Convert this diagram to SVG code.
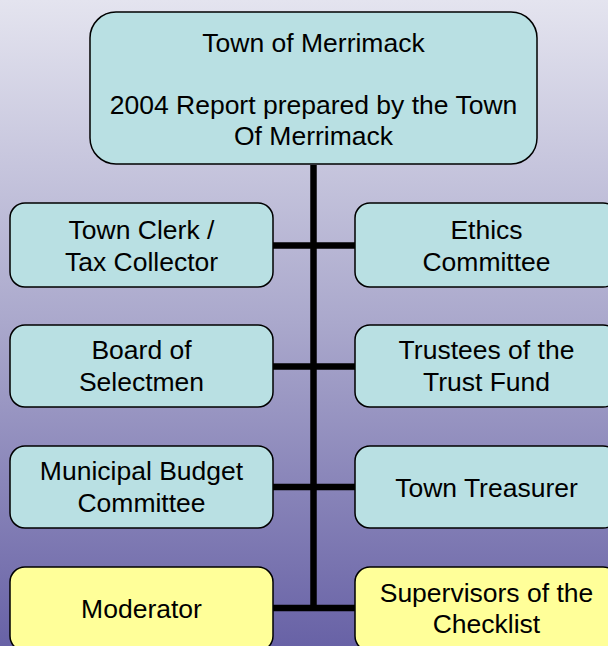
<svg xmlns="http://www.w3.org/2000/svg" width="608" height="646" viewBox="0 0 608 646">
<defs>
<linearGradient id="bg" x1="0" y1="0" x2="0" y2="1">
<stop offset="0" stop-color="#e4e4ef"/>
<stop offset="0.5" stop-color="#aaa8cc"/>
<stop offset="1" stop-color="#6862a6"/>
</linearGradient>
<style>
.box{fill:#b9e0e3;stroke:#000;stroke-width:1.5}
.yel{fill:#ffff99;stroke:#000;stroke-width:1.5}
text{font-family:"Liberation Sans",Arial,sans-serif;font-size:26.5px;fill:#000;text-anchor:middle}
.conn line{stroke:#000;stroke-width:6.5}
</style>
</defs>
<rect x="0" y="0" width="608" height="646" fill="url(#bg)"/>
<g class="conn">
<line x1="313.5" y1="165" x2="313.5" y2="611"/>
<line x1="273" y1="245.5" x2="355" y2="245.5"/>
<line x1="273" y1="366.5" x2="355" y2="366.5"/>
<line x1="273" y1="487" x2="355" y2="487"/>
<line x1="273" y1="608" x2="355" y2="608"/>
</g>
<g id="top">
<rect class="box" x="90" y="12" width="447" height="152" rx="26"/>
<text x="313.5" y="52">Town of Merrimack</text>
<text x="313.5" y="114">2004 Report prepared by the Town</text>
<text x="313.5" y="145">Of Merrimack</text>
</g>
<g id="clerk">
<rect class="box" x="10" y="203" width="263" height="84" rx="15"/>
<text x="141.5" y="239">Town Clerk /</text>
<text x="141.5" y="271">Tax Collector</text>
</g>
<g id="ethics">
<rect class="box" x="355" y="203" width="263" height="84" rx="15"/>
<text x="486.5" y="239">Ethics</text>
<text x="486.5" y="271">Committee</text>
</g>
<g id="board">
<rect class="box" x="10" y="325" width="263" height="82" rx="15"/>
<text x="141.5" y="359">Board of</text>
<text x="141.5" y="391">Selectmen</text>
</g>
<g id="trustees">
<rect class="box" x="355" y="325" width="263" height="82" rx="15"/>
<text x="486.5" y="359">Trustees of the</text>
<text x="486.5" y="391">Trust Fund</text>
</g>
<g id="budget">
<rect class="box" x="10" y="446" width="263" height="82" rx="15"/>
<text x="141.5" y="480">Municipal Budget</text>
<text x="141.5" y="512">Committee</text>
</g>
<g id="treasurer">
<rect class="box" x="355" y="446" width="263" height="82" rx="15"/>
<text x="486.5" y="497">Town Treasurer</text>
</g>
<g id="moderator">
<rect class="yel" x="10" y="567" width="263" height="84" rx="15"/>
<text x="141.5" y="618">Moderator</text>
</g>
<g id="supervisors">
<rect class="yel" x="355" y="567" width="263" height="84" rx="15"/>
<text x="486.5" y="602">Supervisors of the</text>
<text x="486.5" y="633">Checklist</text>
</g>
</svg>
